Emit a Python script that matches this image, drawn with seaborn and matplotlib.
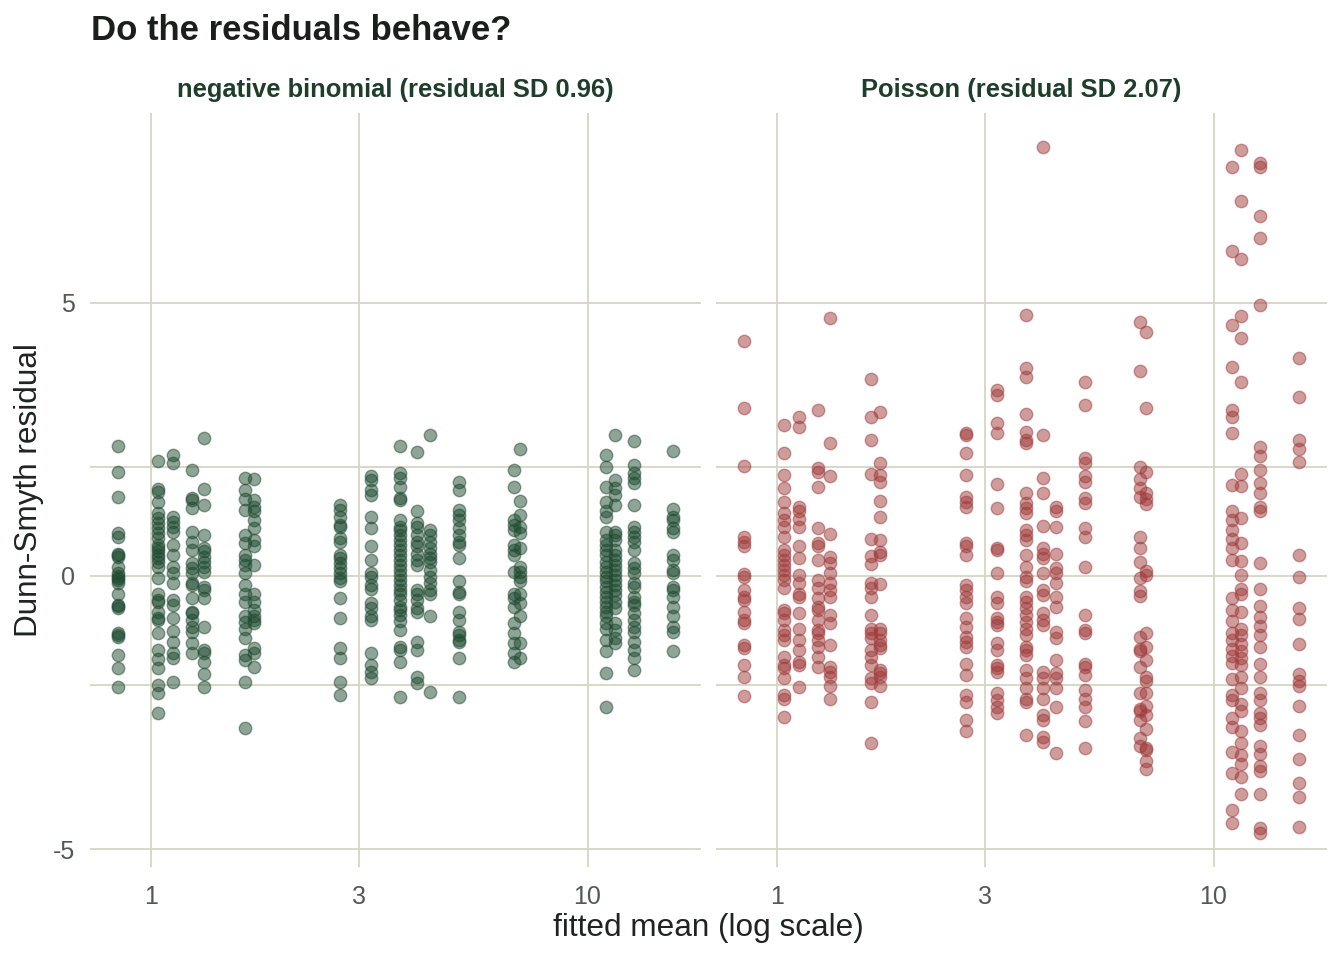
import numpy as np
import pandas as pd
import seaborn as sns
import matplotlib.pyplot as plt
from matplotlib.ticker import NullLocator, FixedLocator

# ---------------- data ----------------
fitted_means = [0.841, 1.04, 1.122, 1.241, 1.321, 1.639, 1.719, 2.716, 3.196,
                3.722, 4.07, 4.357, 5.09, 6.80, 7.01, 11.05, 11.55, 12.77, 15.7]

nb_resid = [
    [2.38, 1.90, 1.44, 0.78, 0.72, 0.41, 0.38, 0.35, 0.17, 0.05, 0.00, -0.04, -0.08, -0.13, -0.32, -0.53, -0.55, -0.59, -1.05, -1.08, -1.11, -1.44, -1.69, -2.03],
    [2.11, 1.59, 1.54, 1.35, 1.15, 1.06, 0.97, 0.88, 0.78, 0.69, 0.57, 0.51, 0.45, 0.38, 0.32, 0.26, 0.17, -0.04, -0.32, -0.44, -0.47, -0.65, -0.77, -0.80, -1.04, -1.35, -1.51, -1.69, -1.99, -2.14, -2.51],
    [2.21, 2.06, 1.08, 0.99, 0.90, 0.81, 0.57, 0.38, 0.17, 0.05, -0.13, -0.44, -0.53, -0.77, -1.00, -1.20, -1.41, -1.50, -1.93],
    [1.93, 1.42, 1.39, 1.24, 0.81, 0.63, 0.48, 0.23, 0.14, 0.05, -0.13, -0.16, -0.41, -0.65, -0.68, -0.80, -0.93, -1.02, -1.23, -1.41],
    [2.52, 1.59, 1.30, 0.75, 0.51, 0.45, 0.35, 0.26, 0.17, 0.08, -0.20, -0.26, -0.41, -0.93, -1.35, -1.41, -1.57, -1.79, -2.03],
    [1.80, 1.57, 1.40, 1.21, 0.75, 0.60, 0.38, 0.29, 0.20, 0.05, -0.16, -0.32, -0.47, -0.74, -0.84, -0.96, -1.14, -1.44, -1.54, -1.93, -2.77],
    [1.77, 1.39, 1.27, 1.18, 1.02, 0.87, 0.66, 0.54, 0.20, -0.32, -0.47, -0.62, -0.74, -0.80, -0.86, -1.32, -1.41, -1.66],
    [1.30, 1.21, 1.08, 0.93, 0.90, 0.69, 0.63, 0.38, 0.32, 0.23, 0.14, 0.05, -0.04, -0.10, -0.41, -0.77, -1.32, -1.50, -1.93, -2.18],
    [1.82, 1.76, 1.57, 1.48, 1.07, 0.87, 0.54, 0.29, 0.05, -0.01, -0.16, -0.23, -0.50, -0.59, -0.74, -0.80, -1.41, -1.63, -1.75, -1.87],
    [2.38, 1.88, 1.79, 1.63, 1.42, 1.39, 1.02, 0.90, 0.84, 0.75, 0.66, 0.57, 0.48, 0.38, 0.29, 0.20, 0.11, 0.02, -0.07, -0.16, -0.26, -0.32, -0.44, -0.56, -0.62, -0.71, -0.83, -0.99, -1.29, -1.35, -1.57, -2.21],
    [2.26, 1.18, 0.96, 0.90, 0.75, 0.63, 0.54, 0.41, 0.29, 0.20, -0.26, -0.32, -0.44, -0.59, -0.65, -1.20, -1.35, -1.84, -1.96],
    [2.58, 0.84, 0.75, 0.63, 0.51, 0.41, 0.32, 0.26, 0.11, -0.01, -0.13, -0.26, -0.32, -0.74, -2.12],
    [1.72, 1.57, 1.21, 1.12, 1.02, 0.87, 0.75, 0.63, 0.57, 0.32, -0.10, -0.29, -0.32, -0.65, -0.80, -1.02, -1.08, -1.17, -1.20, -1.50, -2.21],
    [1.93, 1.63, 1.02, 0.93, 0.84, 0.57, 0.48, 0.38, 0.08, -0.32, -0.41, -0.56, -0.86, -1.05, -1.23, -1.41, -1.57],
    [2.32, 1.38, 1.12, 0.90, 0.78, 0.51, 0.17, 0.08, -0.01, -0.10, -0.32, -0.50, -0.74, -1.23, -1.50],
    [2.21, 2.00, 1.63, 1.36, 1.18, 1.08, 0.81, 0.66, 0.57, 0.48, 0.38, 0.26, 0.17, 0.08, -0.01, -0.10, -0.20, -0.29, -0.38, -0.47, -0.56, -0.65, -0.74, -0.86, -0.96, -1.17, -1.38, -1.78, -2.40],
    [2.58, 1.76, 1.60, 1.48, 1.30, 0.81, 0.75, 0.66, 0.48, 0.38, 0.29, 0.20, 0.11, 0.02, -0.07, -0.16, -0.26, -0.35, -0.47, -0.59, -0.86, -0.99, -1.14, -1.23],
    [2.47, 2.03, 1.88, 1.79, 1.70, 1.30, 0.90, 0.81, 0.72, 0.63, 0.48, 0.23, 0.14, 0.05, -0.13, -0.20, -0.38, -0.47, -0.53, -0.68, -0.80, -0.93, -1.02, -1.20, -1.35, -1.50, -1.71],
    [2.29, 1.22, 1.08, 1.02, 0.87, 0.81, 0.38, 0.29, 0.11, 0.05, -0.20, -0.26, -0.38, -0.56, -0.74, -0.93, -1.02, -1.37],
]

pois_resid = [
    [4.30, 3.07, 2.01, 0.71, 0.63, 0.54, 0.04, -0.02, -0.26, -0.38, -0.44, -0.65, -0.80, -0.86, -1.26, -1.32, -1.63, -1.84, -2.19],
    [2.76, 2.24, 1.85, 1.60, 1.36, 1.15, 1.02, 0.90, 0.72, 0.48, 0.38, 0.29, 0.20, 0.11, 0.02, -0.07, -0.22, -0.62, -0.68, -0.80, -0.99, -1.08, -1.17, -1.48, -1.63, -1.69, -1.87, -2.18, -2.24, -2.58],
    [2.91, 2.72, 1.27, 1.18, 1.05, 0.90, 0.54, 0.32, 0.02, -0.13, -0.32, -0.38, -0.68, -0.96, -1.17, -1.35, -1.57, -1.63, -2.03],
    [3.03, 1.97, 1.91, 1.63, 0.87, 0.60, 0.54, 0.29, -0.07, -0.22, -0.41, -0.56, -0.62, -0.80, -0.99, -1.05, -1.17, -1.29, -1.48, -1.66],
    [4.71, 2.44, 1.82, 0.77, 0.35, 0.23, 0.05, -0.13, -0.26, -0.38, -0.71, -0.86, -1.26, -1.66, -1.75, -1.84, -2.02, -2.25],
    [3.60, 2.91, 2.49, 1.86, 0.67, 0.37, 0.22, -0.13, -0.22, -0.38, -0.71, -0.96, -1.05, -1.14, -1.35, -1.48, -1.63, -1.87, -1.96, -2.31, -3.06],
    [3.00, 2.07, 1.85, 1.71, 1.37, 1.07, 0.65, 0.44, 0.38, -0.15, -0.96, -1.05, -1.17, -1.26, -1.32, -1.72, -1.78, -1.84, -2.02],
    [2.61, 2.58, 2.24, 1.85, 1.45, 1.36, 1.27, 0.60, 0.54, 0.38, -0.16, -0.26, -0.38, -0.50, -0.77, -0.93, -1.11, -1.20, -1.29, -1.60, -1.81, -2.18, -2.30, -2.63, -2.84],
    [3.40, 3.31, 2.79, 2.61, 1.69, 1.24, 0.51, 0.48, 0.05, -0.38, -0.50, -0.77, -0.84, -0.90, -1.23, -1.35, -1.63, -1.69, -1.75, -2.14, -2.27, -2.39, -2.51],
    [4.77, 3.80, 3.64, 2.97, 2.64, 2.49, 2.43, 1.51, 1.33, 1.24, 1.15, 0.84, 0.75, 0.66, 0.38, 0.17, -0.01, -0.10, -0.38, -0.47, -0.59, -0.71, -0.84, -0.96, -1.08, -1.29, -1.35, -1.44, -1.72, -1.87, -2.05, -2.24, -2.30, -2.91],
    [7.84, 2.58, 1.79, 1.52, 0.91, 0.51, 0.41, 0.32, 0.05, -0.26, -0.35, -0.68, -0.80, -0.90, -1.75, -1.87, -2.05, -2.24, -2.54, -2.63, -2.94, -3.03],
    [1.27, 1.18, 0.89, 0.40, 0.14, 0.05, -0.13, -0.38, -0.56, -1.02, -1.14, -1.54, -1.78, -1.87, -2.05, -2.39, -3.23],
    [3.55, 3.13, 2.15, 2.06, 1.82, 1.72, 1.42, 1.33, 0.87, 0.72, 0.16, -0.71, -0.99, -1.05, -1.60, -1.66, -1.81, -2.08, -2.24, -2.39, -2.66, -3.15],
    [4.64, 3.75, 2.00, 1.77, 1.60, 1.44, 0.72, 0.51, 0.26, -0.03, -0.28, -0.37, -1.12, -1.33, -1.38, -1.67, -2.13, -2.43, -2.47, -2.64, -2.97, -3.10],
    [4.46, 3.07, 1.90, 1.52, 1.41, 1.31, 0.09, 0.01, -1.04, -1.29, -1.54, -1.84, -1.92, -2.13, -2.38, -2.55, -2.80, -3.14, -3.18, -3.39, -3.52],
    [7.48, 5.95, 4.59, 3.83, 3.03, 2.91, 2.61, 1.66, 1.18, 1.02, 0.85, 0.68, 0.51, 0.30, -0.41, -0.62, -0.83, -1.04, -1.17, -1.33, -1.46, -1.59, -1.88, -2.17, -2.26, -2.59, -2.76, -3.22, -3.60, -4.27, -4.51],
    [7.78, 6.85, 5.79, 4.75, 4.36, 3.55, 1.87, 1.65, 1.06, 0.60, 0.28, 0.01, -0.24, -0.33, -0.66, -0.96, -1.08, -1.25, -1.38, -1.50, -1.63, -1.84, -2.05, -2.34, -2.47, -2.83, -3.05, -3.27, -3.43, -3.68, -3.98],
    [7.55, 7.48, 6.58, 6.18, 4.95, 2.36, 2.19, 1.94, 1.70, 1.52, 1.27, 1.19, 0.24, -0.23, -0.54, -0.75, -0.91, -1.08, -1.29, -1.60, -1.84, -2.13, -2.26, -2.51, -2.59, -2.72, -3.10, -3.26, -3.48, -3.56, -3.98, -4.61, -4.69],
    [3.99, 3.28, 2.49, 2.32, 2.09, 0.39, -0.01, -0.58, -0.79, -1.25, -1.80, -1.92, -2.01, -2.38, -2.91, -3.35, -3.79, -4.04, -4.59],
]

panel_titles = ["negative binomial (residual SD 0.96)", "Poisson (residual SD 2.07)"]
panel_colors = ["#1e4a30", "#a03a3a"]
x_ticks = [1, 3, 10]
x_ticklabels = ["1", "3", "10"]
y_ticks = [-5, 0, 5]
y_ticklabels = ["-5", "0", "5"]
ref_lines = [-2, 2]

# ---------------- build frame ----------------
rows = []
for name, series in zip(panel_titles, [nb_resid, pois_resid]):
    for mu, vals in zip(fitted_means, series):
        for v in vals:
            rows.append((name, mu, v))
df = pd.DataFrame(rows, columns=["model", "fitted", "resid"])

# ---------------- style ----------------
sns.set_theme(style="white")
plt.rcParams['font.family'] = ['Liberation Sans', 'DejaVu Sans']
plt.rcParams['axes.unicode_minus'] = False

grid_col = "#d4d6c4"
tick_col = "#4f5a52"
text_col = "#1e2420"
strip_col = "#1f3d2b"

W, H = 1344, 960
fig = plt.figure(figsize=(W / 100, H / 100), dpi=100)

lx = np.log10(df["fitted"])
xr = lx.max() - lx.min()
xlim = (10 ** (lx.min() - 0.05 * xr), 10 ** (lx.max() + 0.05 * xr))
yr = df["resid"].max() - df["resid"].min()
ylim = (df["resid"].min() - 0.05 * yr, df["resid"].max() + 0.05 * yr)

top_px, bot_px = 112.9, 866.8
panels_px = [(90.3, 700.8), (716.3, 1326.8)]

for i, (name, col) in enumerate(zip(panel_titles, panel_colors)):
    x0, x1 = panels_px[i]
    ax = fig.add_axes([x0 / W, 1 - bot_px / H, (x1 - x0) / W, (bot_px - top_px) / H])
    ax.set_xscale('log')
    ax.set_xlim(*xlim)
    ax.set_ylim(*ylim)
    for s in ax.spines.values():
        s.set_visible(False)
    ax.set_xticks(x_ticks)
    ax.set_xticklabels(x_ticklabels)
    ax.xaxis.set_minor_locator(NullLocator())
    ax.set_yticks(y_ticks)
    ax.set_yticklabels(y_ticklabels if i == 0 else [])
    ax.grid(True, which='major', color=grid_col, linewidth=1.3)
    ax.set_axisbelow(True)
    for r in ref_lines:
        ax.axhline(r, color=grid_col, linewidth=1.3, zorder=0.5)
    ax.tick_params(axis='both', length=0, labelsize=18, colors=tick_col)
    ax.tick_params(axis='x', pad=13)
    ax.tick_params(axis='y', pad=11)
    sub = df[df["model"] == name]
    sns.scatterplot(data=sub, x="fitted", y="resid", ax=ax, color=col,
                    edgecolor=col, alpha=0.5, s=80, linewidth=1.0, legend=False, zorder=3)
    ax.set_xlabel("")
    ax.set_ylabel("")
    fig.text((x0 + x1) / 2 / W, 1 - 90 / H, name, ha='center', va='center',
             fontsize=18.4, fontweight='bold', color=strip_col)

fig.text(91 / W, 1 - 30 / H, "Do the residuals behave?", ha='left', va='center',
         fontsize=25, fontweight='bold', color="#1a1f1b")
fig.text(708.5 / W, 1 - 928 / H, "fitted mean (log scale)", ha='center', va='center',
         fontsize=22.7, color=text_col)
fig.text(29 / W, 1 - 490 / H, "Dunn-Smyth residual", ha='center', va='center',
         rotation=90, fontsize=22.7, color=text_col)

fig.savefig("out.png", dpi=100, facecolor="white")
